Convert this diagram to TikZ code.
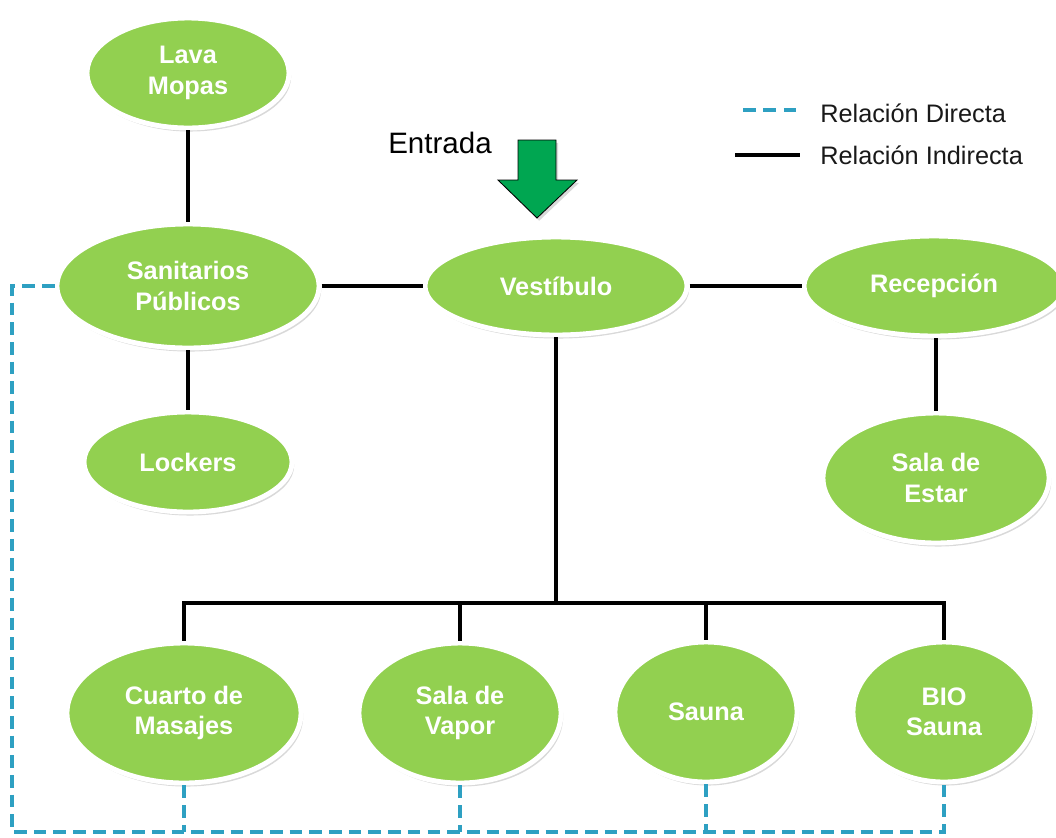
\documentclass[tikz,border=0pt]{standalone}
\usepackage{fontspec}
\setmainfont{Liberation Sans}
\usetikzlibrary{shadows,shapes.geometric}
\definecolor{salagreen}{HTML}{92D050}
\definecolor{entradagreen}{HTML}{00A651}
\definecolor{directblue}{RGB}{46,160,194}
\tikzset{
  zona/.style={ellipse,draw=white,line width=3.5pt,fill=salagreen,inner sep=0pt,
    align=center,text=white,font=\fontsize{18}{21.5}\selectfont\bfseries,
    drop shadow={opacity=0.3,shadow xshift=1.5pt,shadow yshift=-2.5pt}},
  indirecta/.style={line width=3.4pt,black},
  directa/.style={line width=3.2pt,directblue,dash pattern=on 9pt off 5pt},
  leyenda/.style={anchor=west,inner sep=0pt,font=\fontsize{18}{21}\selectfont,text=black!90}
}
\begin{document}
\begin{tikzpicture}[x=0.025cm,y=-0.025cm]
        \useasboundingbox (0,0) rectangle (1056,837);
        %% Zonas
        \node[zona,minimum width=5.05cm,minimum height=2.75cm] (mopas) at (188,73) {Lava\\Mopas};
        \node[zona,minimum width=6.55cm,minimum height=3.1cm] (sanitarios) at (188,286) {Sanitarios\\Públicos};
        \node[zona,minimum width=6.55cm,minimum height=2.45cm] (vestibulo) at (556,286) {Vestíbulo};
        \node[zona,minimum width=6.5cm,minimum height=2.5cm] (recepcion) at (934,286) {Recepción};
        \node[zona,minimum width=5.2cm,minimum height=2.5cm] (lockers) at (188,462) {Lockers};
        \node[zona,minimum width=5.65cm,minimum height=3.25cm] (estar) at (936,478) {Sala de\\Estar};
        \node[zona,minimum width=5.85cm,minimum height=3.5cm] (masajes) at (184,713) {Cuarto de\\Masajes};
        \node[zona,minimum width=5.05cm,minimum height=3.5cm] (vapor) at (460,713) {Sala de\\Vapor};
        \node[zona,minimum width=4.55cm,minimum height=3.5cm] (sauna) at (706,712) {Sauna};
        \node[zona,minimum width=4.55cm,minimum height=3.5cm] (bio) at (944,712) {BIO\\Sauna};
        \coordinate (bus) at (556,603);
        \coordinate (fondo) at (12,832);
        %% Relacion indirecta
        \draw[indirecta] (mopas) -- (sanitarios);
        \draw[indirecta] (sanitarios) -- (lockers);
        \draw[indirecta] (sanitarios.east) -- (vestibulo.west);
        \draw[indirecta] (vestibulo.east) -- (recepcion.west);
        \draw[indirecta] (recepcion.south -| estar.north) -- (estar.north);
        \draw[indirecta] (vestibulo.south) -- (bus);
        \draw[indirecta] (masajes.north) -- (masajes.north |- bus) -- (bio.north |- bus) -- (bio.north);
        \draw[indirecta] (vapor.north) -- (vapor.north |- bus);
        \draw[indirecta] (sauna.north) -- (sauna.north |- bus);
        %% Relacion directa
        \draw[directa] (sanitarios.west) -| (fondo) -| (bio.south);
        \draw[directa] (masajes.south) -- (masajes.south |- fondo);
        \draw[directa] (vapor.south) -- (vapor.south |- fondo);
        \draw[directa] (sauna.south) -- (sauna.south |- fondo);
        %% Entrada
        \node[inner sep=0pt,font=\fontsize{21}{24}\selectfont] (entrada) at (440,143) {Entrada};
        \draw[fill=entradagreen,line width=0.6pt,drop shadow={opacity=0.3,shadow xshift=1.5pt,shadow yshift=-2pt}]
          (518,140) -- (556,140) -- (556,180) -- (577,180) -- (537,218) -- (498,180) -- (518,180) -- cycle;
        %% Leyenda
        \coordinate (d1) at (743,110);
        \coordinate (d2) at (800,110);
        \coordinate (i1) at (735,155);
        \coordinate (i2) at (800,155);
        \draw[directa,dash pattern=on 9pt off 5.5pt] (d1) -- (d2);
        \draw[indirecta] (i1) -- (i2);
        \node[leyenda] (ldirecta) at (820,113) {Relación Directa};
        \node[leyenda] (lindirecta) at (820,155) {Relación Indirecta};
\end{tikzpicture}
\end{document}
